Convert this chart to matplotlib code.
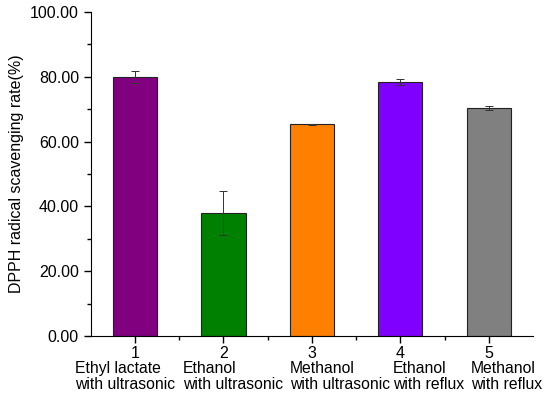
import numpy as np
import matplotlib.pyplot as plt
from matplotlib.ticker import FormatStrFormatter, MultipleLocator
from matplotlib.transforms import blended_transform_factory

plt.rcParams['font.family'] = ['Liberation Sans', 'DejaVu Sans']
plt.rcParams['font.size'] = 11.5

positions = [1, 2, 3, 4, 5]
values = [79.9, 37.9, 65.3, 78.4, 70.3]
errors = [1.9, 6.8, 0.2, 0.8, 0.6]
names = ["Ethyl lactate\nwith ultrasonic", "Ethanol\nwith ultrasonic",
         "Methanol\nwith ultrasonic", "Ethanol\nwith reflux", "Methanol\nwith reflux"]
colors = ["#800080", "#008000", "#ff8000", "#8000ff", "#808080"]
# left edge of each name block, relative to its tick (layout only)
name_offsets = [-0.68, -0.46, -0.25, -0.08, -0.20]

fig = plt.figure(figsize=(5.5, 3.99), dpi=100)
ax = fig.add_axes([0.165, 0.158, 0.804, 0.812])

ax.bar(positions, values, width=0.5, color=colors, edgecolor="#222222", linewidth=0.8)
ax.errorbar(positions, values, yerr=errors, fmt="none", ecolor="#333333",
            elinewidth=0.7, capsize=3, capthick=0.7)

ax.set_xlim(0.5, 5.5)
ax.set_ylim(0, 100)
ax.yaxis.set_major_locator(MultipleLocator(20))
ax.yaxis.set_minor_locator(MultipleLocator(10))
ax.yaxis.set_major_formatter(FormatStrFormatter("%.2f"))
ax.set_xticks(positions)
ax.set_xticks([1.5, 2.5, 3.5, 4.5], minor=True)
ax.set_xticklabels([str(p) for p in positions])

trans = blended_transform_factory(ax.transData, fig.transFigure)
for p, n, off in zip(positions, names, name_offsets):
    ax.text(p + off, 1 - 361 / 399, n, transform=trans, ha="left", va="top",
            fontsize=11.3, linespacing=1.12, clip_on=False)

ax.spines['top'].set_visible(False)
ax.spines['right'].set_visible(False)
ax.tick_params(axis='both', which='major', length=5, width=1, direction='out', labelsize=11.5)
ax.tick_params(axis='both', which='minor', length=3, width=1, direction='out')
ax.tick_params(axis='x', pad=2.5)

ax.set_ylabel("DPPH radical scavenging rate(%)", fontsize=11.5)
ax.yaxis.set_label_coords(-0.152, 0.5)

fig.savefig("out.png", dpi=100)
